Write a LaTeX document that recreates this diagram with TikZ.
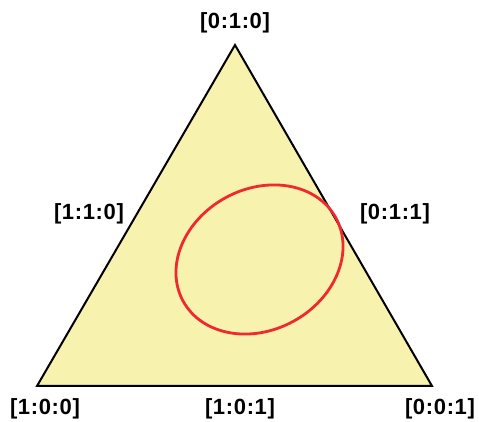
\documentclass[tikz,border=0pt]{standalone}
\usepackage{fontspec}
\setmainfont{Liberation Sans}
\usetikzlibrary{positioning}

\definecolor{paleyellow}{HTML}{F7F2AE}
\definecolor{curvered}{HTML}{EE2A2E}

\begin{document}
\begin{tikzpicture}[
        x = 1pt, y = 1pt,
        coord label/.style = {font = \fontsize{22}{24}\selectfont\bfseries\addfontfeature{LetterSpace=3}, inner sep = 0pt},
        side/.style = {draw = black, line width = 2pt, line join = miter},
        conic/.style = {draw = curvered, line width = 2.8pt}
    ]

    \useasboundingbox (0,0) rectangle (479,422);

    \coordinate (c0) at (37,36);
    \coordinate (c1) at (235,377);
    \coordinate (c2) at (432,36);

    \path[side, fill = paleyellow] (c0) -- (c1) -- (c2) -- cycle;

    \draw[conic, rotate around = {28.5:(259.5,162.5)}]
        (259.5,162.5) ellipse [x radius = 87, y radius = 70.5];

    \node[coord label] (l010) at (235,399) {[0:1:0]};
    \node[coord label] (l110) at (89,208) {[1:1:0]};
    \node[coord label] (l011) at (395,208) {[0:1:1]};
    \node[coord label] (l100) at (45,13) {[1:0:0]};
    \node[coord label] (l101) at (240,13) {[1:0:1]};
    \node[coord label] (l001) at (440,13) {[0:0:1]};
\end{tikzpicture}
\end{document}
